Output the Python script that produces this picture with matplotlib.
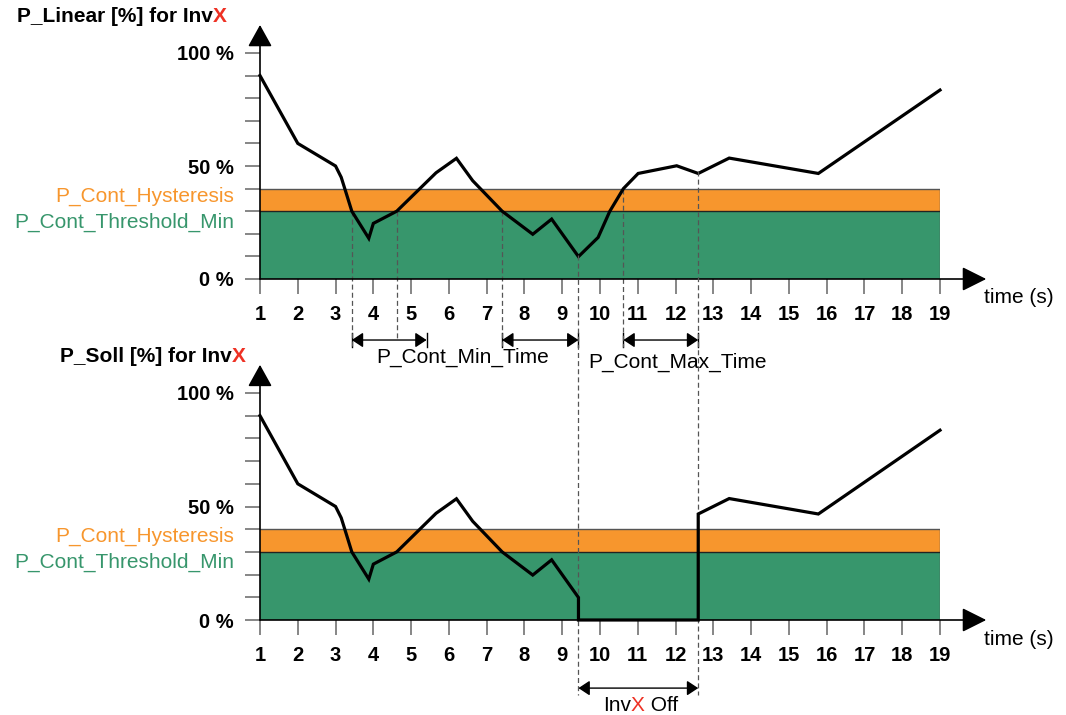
import numpy as np
import matplotlib.pyplot as plt

plt.rcParams['font.family'] = ['Liberation Sans', 'DejaVu Sans']

# P_Linear curve (time in s, value in %)
time_pts = [1, 2, 3, 3.15, 3.3, 3.43, 3.88, 4.0, 4.62, 5.66, 6.2, 6.63, 7.41, 8.22,
            8.72, 9.43, 9.95, 10.26, 10.62, 11.01, 12.03, 12.6, 13.42, 15.78, 19.0]
p_linear = [90, 60, 50, 45, 37, 30, 18, 24.6, 30, 47, 53.4, 43.5, 30, 19.8,
            26.5, 9.9, 18.4, 30, 40, 46.7, 50.1, 46.7, 53.5, 46.7, 83.6]

x_ticks = list(range(1, 20))
y_ticks = list(range(0, 101, 10))
y_labels = {0: '0 %', 50: '50 %', 100: '100 %'}

threshold_min = 30
hysteresis_top = 40

# switching events
t_events = [3.43, 4.62, 7.41, 9.43, 10.62, 12.6]
min_time_spans = [(3.43, 5.41), (7.41, 9.43)]
max_time_span = (10.62, 12.6)
off_span = (9.43, 12.6)

# P_Soll: same as P_Linear but zero while InvX is off
t_soll = [t for t in time_pts if t <= off_span[0]] + [off_span[0], off_span[1]] + \
         [t for t in time_pts if t >= off_span[1]]
p_soll = [v for t, v in zip(time_pts, p_linear) if t <= off_span[0]] + [0, 0] + \
         [v for t, v in zip(time_pts, p_linear) if t >= off_span[1]]

ORANGE = '#F7962D'
GREEN = '#37966C'
RED = '#EE3124'

W, H = 1066, 715
fig = plt.figure(figsize=(W / 100, H / 100), dpi=100)

ax1 = fig.add_axes([260 / W, 1 - 279 / H, 680 / W, 226 / H])
ax2 = fig.add_axes([260 / W, 1 - 620 / H, 680 / W, 227 / H])
ax2.set_facecolor('none')


def setup(ax, title, title_x, title_y, t, v):
    ax.set_xlim(1, 19)
    ax.set_ylim(0, 100)
    for s in ax.spines.values():
        s.set_visible(False)
    ax.fill_between([1, 19], 0, threshold_min, color=GREEN, lw=0, zorder=1)
    ax.fill_between([1, 19], threshold_min, hysteresis_top, color=ORANGE, lw=0, zorder=1)
    ax.plot([1, 19, 19, 1], [hysteresis_top, hysteresis_top, 0, 0], color='#555555', lw=1, zorder=2)
    ax.plot([1, 19], [threshold_min, threshold_min], color='#222222', lw=1, zorder=2)

    ax.set_yticks(y_ticks)
    ax.set_yticklabels([y_labels.get(y, '') for y in y_ticks])
    ax.set_xticks(x_ticks)
    ax.tick_params(axis='y', length=11, width=1.1, color='#666666', pad=8,
                   labelsize=14.5)
    ax.tick_params(axis='x', length=11, width=1.1, color='#666666', pad=8,
                   labelsize=14.5)
    for lab in ax.get_xticklabels() + ax.get_yticklabels():
        lab.set_fontweight('bold')

    # axis arrows
    ax.annotate('', xy=(0, 1.124), xytext=(0, 0), xycoords='axes fraction',
                arrowprops=dict(arrowstyle='-|>,head_length=1.35,head_width=0.75',
                                mutation_scale=10, color='black', lw=1.2,
                                shrinkA=0, shrinkB=0), annotation_clip=False, zorder=5)
    ax.annotate('', xy=(1.068, 0), xytext=(0, 0), xycoords='axes fraction',
                arrowprops=dict(arrowstyle='-|>,head_length=1.5,head_width=0.75',
                                mutation_scale=10, color='black', lw=1.2,
                                shrinkA=0, shrinkB=0), annotation_clip=False, zorder=5)
    ax.text(1.065, -8.4, 'time (s)', transform=ax.get_yaxis_transform(),
            fontsize=15, ha='left', va='center')

    ax.text(-0.038, 36.7, 'P_Cont_Hysteresis', transform=ax.get_yaxis_transform(),
            fontsize=15, color=ORANGE, ha='right', va='center')
    ax.text(-0.038, 25.2, 'P_Cont_Threshold_Min', transform=ax.get_yaxis_transform(),
            fontsize=15, color=GREEN, ha='right', va='center')

    tt = fig.text(title_x / W, 1 - title_y / H, title.replace('X', ''), fontsize=15,
                  fontweight='bold', ha='left', va='center')
    fig.canvas.draw()
    ax.annotate('X', xy=(1, 0), xycoords=tt, fontsize=15, fontweight='bold',
                color=RED, ha='left', va='bottom', annotation_clip=False)

    ax.plot(t, v, color='black', lw=2.3, zorder=4, solid_joinstyle='miter', clip_on=False)


setup(ax1, 'P_Linear [%] for InvX', 17, 17, time_pts, p_linear)
setup(ax2, 'P_Soll [%] for InvX', 60, 357, t_soll, p_soll)

dash = dict(color='#555555', lw=0.9, linestyle=(0, (4, 2.5)), clip_on=False, zorder=3)

# dashed event lines
for te in t_events:
    y0 = np.interp(te, time_pts, p_linear)
    if te in off_span:
        # long lines down through the lower panel
        ax2.plot([te, te], [y0 + (620 - 279) / 2.26, -33], **dash)
    elif te == 4.62:
        ax1.plot([te, te], [y0, -27], **dash)
    else:
        ax1.plot([te, te], [y0, -30], **dash)

dim = dict(arrowstyle='<|-|>,head_length=0.68,head_width=0.45', mutation_scale=10,
           color='black', lw=1.0, shrinkA=0, shrinkB=0)

for a, b in min_time_spans + [max_time_span]:
    ax1.annotate('', xy=(b, -27), xytext=(a, -27), arrowprops=dim, annotation_clip=False)
    for e in (a, b):
        ax1.plot([e, e], [-24, -30], color='black', lw=1.0, clip_on=False)

ax1.text(6.37, -34.5, 'P_Cont_Min_Time', fontsize=15, ha='center', va='center')
ax1.text(12.06, -36.7, 'P_Cont_Max_Time', fontsize=15, ha='center', va='center')

ax2.annotate('', xy=(off_span[1], -30), xytext=(off_span[0], -30), arrowprops=dim,
             annotation_clip=False)
t1 = ax2.text(10.08, -37.6, 'Inv', fontsize=15, ha='left', va='center')
fig.canvas.draw()
t2 = ax2.annotate('X', xy=(1, 0), xycoords=t1, fontsize=15, color=RED,
                  ha='left', va='bottom', annotation_clip=False)
fig.canvas.draw()
ax2.annotate(' Off', xy=(1, 0), xycoords=t2, fontsize=15,
             ha='left', va='bottom', annotation_clip=False)

fig.savefig('out.png', dpi=100)
